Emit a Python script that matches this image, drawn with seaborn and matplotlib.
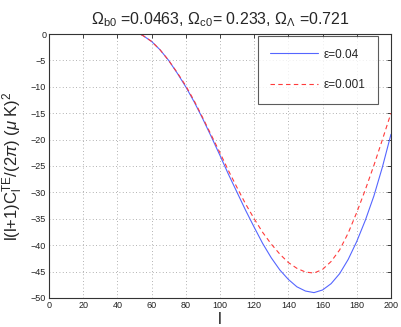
import numpy as np
import pandas as pd
import matplotlib
matplotlib.use("Agg")
import matplotlib.pyplot as plt
import seaborn as sns

ell = [50, 55, 60, 65, 70, 75, 80, 85, 90, 95, 100, 105, 110, 115, 120, 125, 130,
       135, 140, 145, 150, 155, 160, 165, 170, 175, 180, 185, 190, 195, 200]
eps_004 = [0.5, -0.3, -1.4, -3.0, -5.0, -7.4, -10.0, -12.9, -16.1, -19.5, -23.0,
           -26.6, -30.0, -33.4, -36.6, -39.7, -42.4, -44.7, -46.5, -47.9, -48.7,
           -49.0, -48.5, -47.3, -45.4, -42.7, -39.3, -35.3, -30.7, -25.2, -19.0]
eps_0001 = [0.5, -0.3, -1.4, -3.0, -5.0, -7.3, -9.8, -12.7, -15.9, -19.2, -22.5,
            -25.9, -29.1, -32.2, -35.0, -37.6, -39.8, -41.7, -43.3, -44.4, -45.1,
            -45.3, -44.6, -43.1, -40.9, -37.7, -33.8, -29.5, -24.9, -20.0, -15.0]
labels = ["ε=0.04", "ε=0.001"]
xticks = [0, 20, 40, 60, 80, 100, 120, 140, 160, 180, 200]
yticks = [0, -5, -10, -15, -20, -25, -30, -35, -40, -45, -50]

sns.set_style("white")
plt.rcParams['font.family'] = ['Liberation Sans', 'DejaVu Sans']
plt.rcParams['mathtext.fontset'] = 'custom'
plt.rcParams['mathtext.rm'] = 'Liberation Sans'
plt.rcParams['mathtext.it'] = 'Liberation Sans:italic'
plt.rcParams['mathtext.bf'] = 'Liberation Sans:bold'

fig = plt.figure(figsize=(4.01, 3.27), dpi=100)
ax = fig.add_axes([0.122, 0.089, 0.853, 0.807])

df1 = pd.DataFrame({"l": ell, "v": eps_004})
df2 = pd.DataFrame({"l": ell, "v": eps_0001})
sns.lineplot(data=df1, x="l", y="v", ax=ax, color="#5566ff", linewidth=0.8,
             label=labels[0], estimator=None)
sns.lineplot(data=df2, x="l", y="v", ax=ax, color="#ff3b3b", linewidth=0.8,
             linestyle=(0, (4, 3)), label=labels[1], estimator=None)

ax.set_xlim(0, 200)
ax.set_ylim(-50, 0)
ax.set_xticks(xticks)
ax.set_yticks(yticks)
ax.set_xticklabels([str(t) for t in xticks])
ax.set_yticklabels([str(t).replace('-', '\u2212') for t in yticks])
ax.tick_params(direction='in', length=3, width=0.6, labelsize=6.5, top=True, right=True,
               pad=2, colors='#222222')
ax.grid(True, linestyle=(0, (1, 3)), color='#999999', linewidth=0.6)
for s in ax.spines.values():
    s.set_linewidth(0.8)
    s.set_color('#333333')

ax.set_xlabel("l", fontsize=12, labelpad=2)
ax.set_ylabel(r"l(l+1)C$_{\rm l}^{\rm TE}$/(2$\pi$) ($\mu$ K)$^{2}$", fontsize=12, labelpad=4)
ax.set_title(r"$\Omega_{\rm b0}$ =0.0463, $\Omega_{\rm c0}$= 0.233, $\Omega_{\Lambda}$ =0.721",
             fontsize=11.5, pad=7)

leg = ax.legend(loc='upper right', bbox_to_anchor=(0.962, 0.992), fontsize=8.5,
                frameon=True, fancybox=False, edgecolor='#333333', handlelength=4.1,
                labelspacing=1.6, borderpad=1.05, handletextpad=0.45, borderaxespad=0)
leg.get_frame().set_linewidth(0.8)

fig.savefig("out.png", dpi=100)
